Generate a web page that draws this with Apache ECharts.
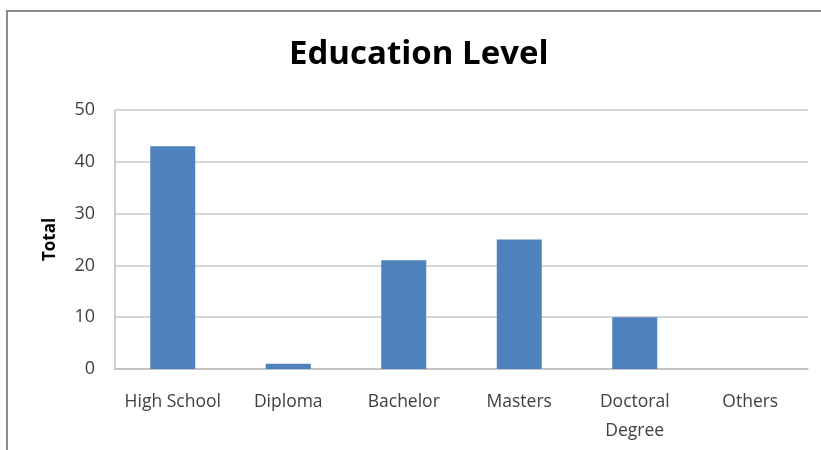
<!DOCTYPE html>
<html><head><meta charset="utf-8">
<script src="https://cdn.jsdelivr.net/npm/echarts@6/dist/echarts.min.js"></script>
<style>html,body{margin:0;padding:0;background:#fff}#c{width:821px;height:450px}</style>
</head><body><div id="c"></div>
<script>
const categories = ['High School', 'Diploma', 'Bachelor', 'Masters', 'Doctoral\nDegree', 'Others'];
const totals = [43, 1, 21, 25, 10, 0];
const yTicks = { min: 0, max: 50, interval: 10 };
const chart = echarts.init(document.getElementById('c'));
const font = 'Open Sans, Liberation Sans, sans-serif';
chart.setOption({
  animation: false,
  backgroundColor: '#fff',
  graphic: [{
    type: 'rect', shape: { x: 7, y: 11, width: 830, height: 460 },
    style: { fill: 'none', stroke: '#8c8c8c', lineWidth: 2 }, silent: true
  }],
  title: {
    text: 'Education Level', left: 284, top: 33,
    textStyle: { fontFamily: font, fontSize: 33, fontWeight: 'bold', color: '#000' }
  },
  grid: { left: 115, right: 13, top: 110, bottom: 81 },
  xAxis: {
    type: 'category', data: categories,
    axisLine: { lineStyle: { color: '#bfbfbf', width: 1.5 } },
    axisTick: { show: false },
    axisLabel: { interval: 0, hideOverlap: false, fontFamily: font, fontSize: 17.5, color: '#404040', margin: 19, lineHeight: 29 }
  },
  yAxis: {
    type: 'value', min: yTicks.min, max: yTicks.max, interval: yTicks.interval,
    name: 'Total', nameLocation: 'middle', nameGap: 56, nameRotate: 90,
    nameTextStyle: { fontFamily: font, fontSize: 17, fontWeight: 'bold', color: '#000' },
    axisLine: { show: true, lineStyle: { color: '#bfbfbf', width: 1.5 } },
    splitLine: { lineStyle: { color: '#c8c8c8', width: 1.5 } },
    axisLabel: { fontFamily: font, fontSize: 18, color: '#404040', margin: 20 }
  },
  series: [{
    type: 'bar', data: totals, barWidth: 45,
    itemStyle: { color: '#4f81bd' }
  }]
});
</script></body></html>
